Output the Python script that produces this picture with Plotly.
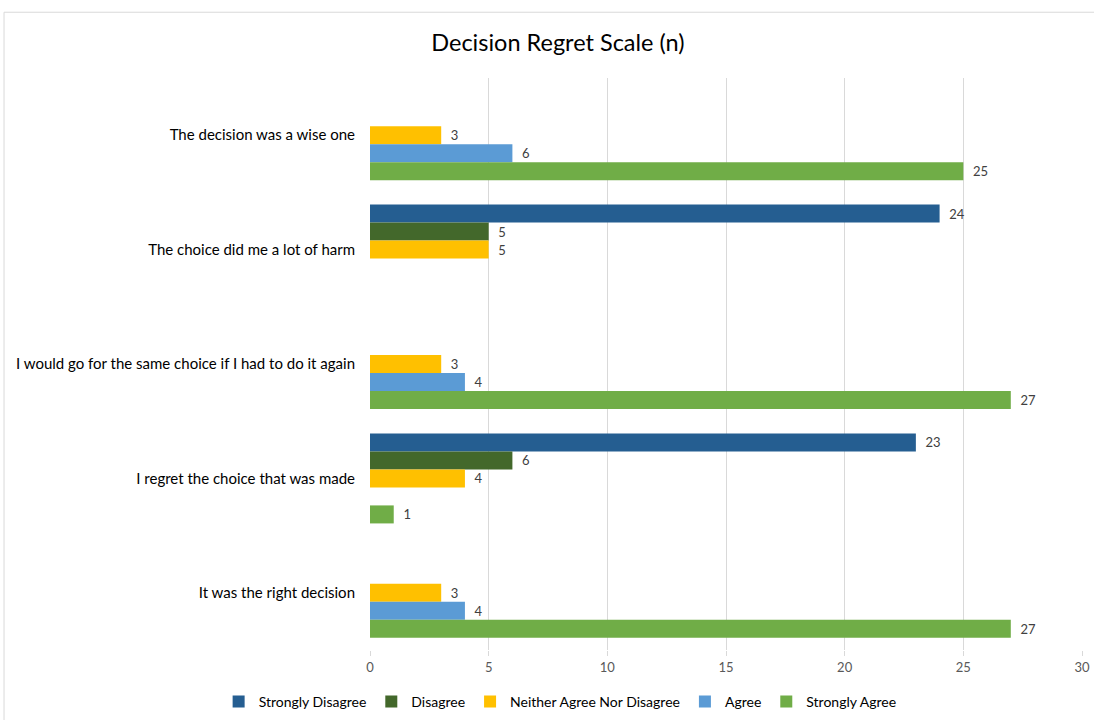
import plotly.graph_objects as go

categories = [
    "The decision was a wise one",
    "The choice did me a lot of harm",
    "I would go for the same choice if I had to do it again",
    "I regret the choice that was made",
    "It was the right decision",
]
series_names = ["Strongly Disagree", "Disagree", "Neither Agree Nor Disagree", "Agree", "Strongly Agree"]
strongly_disagree = [None, 24, None, 23, None]
disagree = [None, 5, None, 6, None]
neither = [3, 5, 3, 4, 3]
agree = [6, None, 4, None, 4]
strongly_agree = [25, None, 27, 1, 27]
colors = ["#255E91", "#43682B", "#FFC000", "#5B9BD5", "#70AD47"]
x_ticks = [0, 5, 10, 15, 20, 25, 30]

values = [strongly_disagree, disagree, neither, agree, strongly_agree]
FONT = "Lato, 'Open Sans', sans-serif"

fig = go.Figure()
for name, vals, col in zip(series_names, values, colors):
    fig.add_trace(go.Bar(
        name=name, y=categories, x=vals, orientation="h",
        marker=dict(color=col, line=dict(width=0)),
        text=[("" if v is None else "  " + str(v)) for v in vals],
        textposition="outside", cliponaxis=False,
        textfont=dict(color="#404040", size=13, family=FONT),
    ))

fig.update_layout(
    width=1094, height=720,
    barmode="group", bargap=0.213, bargroupgap=0,
    paper_bgcolor="white", plot_bgcolor="white",
    margin=dict(l=370, r=12, t=78, b=70, autoexpand=False),
    font=dict(family=FONT, color="#000000"),
    title=dict(text="Decision Regret Scale (n)", x=0.51, xref="container", xanchor="center",
               y=1 - 43 / 720, yref="container", yanchor="middle",
               font=dict(size=23.5, color="#000000", family=FONT)),
    legend=dict(orientation="h", xref="container", x=0.512, xanchor="center",
                yref="container", y=1 - 702 / 720, yanchor="middle", traceorder="normal",
                font=dict(size=14, color="#000000", family=FONT),
                itemwidth=30, itemsizing="constant"),
    showlegend=True,
    shapes=[dict(type="rect", xref="paper", yref="paper", x0=-0.514, x1=1.03, y0=-0.2, y1=1.115,
                 line=dict(color="#D9D9D9", width=1), fillcolor="rgba(0,0,0,0)", layer="below")],
)
fig.update_xaxes(range=[0, 30], tickvals=x_ticks, showgrid=True, gridcolor="#D9D9D9", gridwidth=1,
                 zeroline=False, showline=False, ticks="outside", ticklen=5, tickcolor="#D9D9D9",
                 tickfont=dict(size=13, color="#595959", family=FONT))
fig.update_yaxes(autorange="reversed", showgrid=False, ticks="", ticklabelstandoff=14,
                 tickfont=dict(size=15, color="#000000", family=FONT), showline=False)

fig.write_html("out.html")
